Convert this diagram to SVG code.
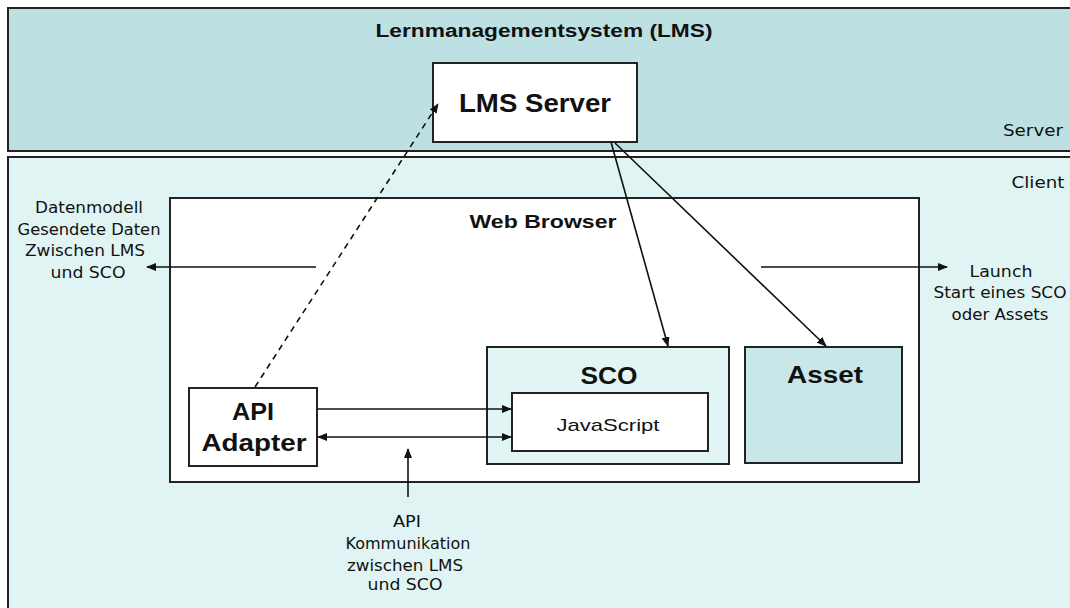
<svg xmlns="http://www.w3.org/2000/svg" width="1070" height="608" viewBox="0 0 1070 608">
<defs>
<marker id="ah" markerWidth="10" markerHeight="8" refX="9" refY="4" orient="auto" markerUnits="userSpaceOnUse">
<path d="M0,0 L10,4 L0,8 z" fill="#111"/>
</marker>
<marker id="ahs" markerWidth="10" markerHeight="8" refX="1" refY="4" orient="auto" markerUnits="userSpaceOnUse">
<path d="M10,0 L0,4 L10,8 z" fill="#111"/>
</marker>
</defs>
<style>
.box{stroke:#222;stroke-width:2}
.b{font-family:"Liberation Sans",Arial,sans-serif;font-weight:bold;fill:#111;text-anchor:middle}
.s{font-family:"DejaVu Sans","Liberation Sans",sans-serif;font-size:15px;fill:#111;text-anchor:middle}
.ln{stroke:#111;stroke-width:1.6;fill:none}
</style>
<rect width="1070" height="608" fill="#ffffff"/>
<g id="server-zone">
<rect class="box" x="8" y="8" width="1075" height="143" fill="#bde0e3"/>
<text class="b" x="544" y="37" font-size="18" textLength="337" lengthAdjust="spacingAndGlyphs">Lernmanagementsystem (LMS)</text>
<text class="s" x="1033" y="136" textLength="60" lengthAdjust="spacingAndGlyphs">Server</text>
</g>
<g id="client-zone">
<rect class="box" x="8" y="157" width="1075" height="460" fill="#e1f4f4"/>
<text class="s" x="1038" y="188" textLength="53" lengthAdjust="spacingAndGlyphs">Client</text>
</g>
<g id="lms-server">
<rect class="box" x="433" y="63" width="204" height="79" fill="#ffffff"/>
<text class="b" x="535" y="112" font-size="25" textLength="152" lengthAdjust="spacingAndGlyphs">LMS Server</text>
</g>
<g id="web-browser">
<rect class="box" x="170" y="198" width="749" height="284" fill="#ffffff"/>
<text class="b" x="543" y="228" font-size="18" textLength="147" lengthAdjust="spacingAndGlyphs">Web Browser</text>
</g>
<g id="sco">
<rect class="box" x="487" y="347" width="242" height="117" fill="#e1f5f5"/>
<text class="b" x="609" y="384" font-size="24" textLength="57" lengthAdjust="spacingAndGlyphs">SCO</text>
</g>
<g id="javascript">
<rect class="box" x="512" y="393" width="196" height="58" fill="#ffffff"/>
<text x="608" y="431" font-family="Liberation Sans, Arial, sans-serif" font-size="17" fill="#111" text-anchor="middle" textLength="103" lengthAdjust="spacingAndGlyphs">JavaScript</text>
</g>
<g id="asset">
<rect class="box" x="745" y="347" width="157" height="116" fill="#c9e6e9"/>
<text class="b" x="825" y="383" font-size="24" textLength="76" lengthAdjust="spacingAndGlyphs">Asset</text>
</g>
<g id="api-adapter">
<rect class="box" x="189" y="388" width="128" height="78" fill="#ffffff"/>
<text class="b" x="253" y="420" font-size="24" textLength="42" lengthAdjust="spacingAndGlyphs">API</text>
<text class="b" x="254" y="451" font-size="24" textLength="105" lengthAdjust="spacingAndGlyphs">Adapter</text>
</g>
<g id="label-datenmodell">
<text class="s" x="89" y="213" textLength="108" lengthAdjust="spacingAndGlyphs">Datenmodell</text>
<text class="s" x="89" y="235" textLength="143" lengthAdjust="spacingAndGlyphs">Gesendete Daten</text>
<text class="s" x="85" y="256" textLength="120" lengthAdjust="spacingAndGlyphs">Zwischen LMS</text>
<text class="s" x="88" y="278" textLength="75" lengthAdjust="spacingAndGlyphs">und SCO</text>
</g>
<g id="label-launch">
<text class="s" x="1001" y="277" textLength="63" lengthAdjust="spacingAndGlyphs">Launch</text>
<text class="s" x="1000" y="298" textLength="133" lengthAdjust="spacingAndGlyphs">Start eines SCO</text>
<text class="s" x="1000" y="320" textLength="97" lengthAdjust="spacingAndGlyphs">oder Assets</text>
</g>
<g id="label-api">
<text class="s" x="407" y="527" textLength="28" lengthAdjust="spacingAndGlyphs">API</text>
<text class="s" x="408" y="549" textLength="125" lengthAdjust="spacingAndGlyphs">Kommunikation</text>
<text class="s" x="405" y="571" textLength="116" lengthAdjust="spacingAndGlyphs">zwischen LMS</text>
<text class="s" x="405" y="590" textLength="75" lengthAdjust="spacingAndGlyphs">und SCO</text>
</g>
<g id="connectors">
<line class="ln" x1="255" y1="387" x2="438" y2="104" stroke-dasharray="6,5" marker-end="url(#ah)"/>
<line class="ln" x1="611" y1="142" x2="668" y2="346" marker-end="url(#ah)"/>
<line class="ln" x1="615" y1="143" x2="826" y2="346" marker-end="url(#ah)"/>
<line class="ln" x1="316" y1="267" x2="147" y2="267" marker-end="url(#ah)"/>
<line class="ln" x1="761" y1="267" x2="947" y2="267" marker-end="url(#ah)"/>
<line class="ln" x1="318" y1="409" x2="511" y2="409" marker-end="url(#ah)"/>
<line class="ln" x1="318" y1="437" x2="511" y2="437" marker-start="url(#ahs)" marker-end="url(#ah)"/>
<line class="ln" x1="408" y1="497" x2="408" y2="449" marker-end="url(#ah)"/>
</g>
</svg>
